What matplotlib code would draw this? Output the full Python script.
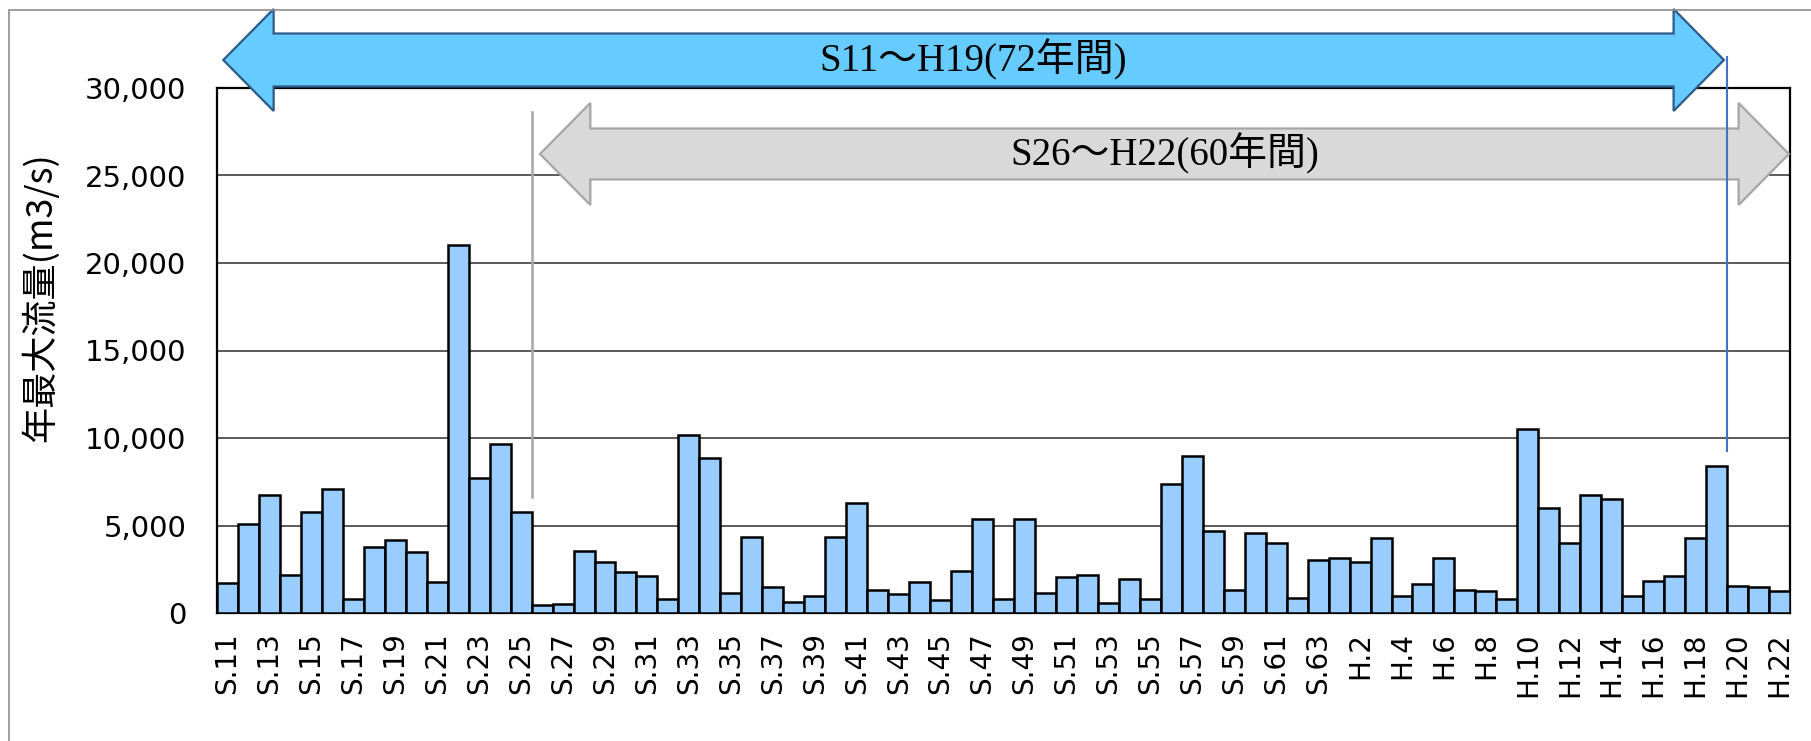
import matplotlib
matplotlib.use('Agg')
import matplotlib.pyplot as plt
from matplotlib.patches import Polygon, Rectangle

# ---- data ----
years = [f"S.{y}" for y in range(11, 64)] + [f"H.{y}" for y in range(1, 23)]
flows = [
    1700, 5100, 6750, 2200, 5800, 7100, 800, 3800, 4180, 3510,   # S11-S20
    1800, 21050, 7700, 9670, 5800, 450, 500, 3560, 2900, 2350,   # S21-S30
    2130, 780, 10180, 8830, 1160, 4320, 1460, 650, 1000, 4320,   # S31-S40
    6290, 1320, 1080, 1750, 730, 2400, 5400, 810, 5350, 1160,    # S41-S50
    2050, 2160, 570, 1970, 780, 7400, 8990, 4700, 1300, 4590,    # S51-S60
    4020, 860, 3050,                                             # S61-S63
    3130, 2940, 4270, 945, 1650, 3130, 1320, 1240, 780, 10530,   # H1-H10
    5990, 4020, 6750, 6530, 945, 1840, 2100, 4270, 8420, 1540,   # H11-H20
    1460, 1240,                                                  # H21-H22
]
yticks = [0, 5000, 10000, 15000, 20000, 25000, 30000]
ylabel = "年最大流量(m3/s)"
span_labels = ["S11～H19(72年間)", "S26～H22(60年間)"]

W, H = 1811, 741
fig = plt.figure(figsize=(W / 100, H / 100), dpi=100)
fig.patch.set_facecolor('white')

# outer frame
fig.add_artist(Rectangle((9 / W, -0.05), 1.2, 1 - 10 / H + 0.05, transform=fig.transFigure,
                         fill=False, edgecolor='#8c8c8c', linewidth=1.2))

ax = fig.add_axes([217 / W, 1 - 613 / H, (1790 - 217) / W, (613 - 88) / H])
x = list(range(len(years)))
ax.bar(x, flows, width=1.0, color='#99CCFF', edgecolor='black', linewidth=1.8, zorder=3)

ax.set_xlim(-0.5, len(years) - 0.5)
ax.set_ylim(0, 30000)
ax.set_yticks(yticks)
ax.set_yticklabels([f"{v:,}" for v in yticks], fontsize=21, family='DejaVu Sans')
ax.set_xticks(x[::2])
ax.set_xticklabels(years[::2], rotation=90, fontsize=20, family='DejaVu Sans')
ax.tick_params(axis='y', length=0, pad=22)
ax.tick_params(axis='x', length=0, pad=14)
ax.yaxis.grid(True, color='#4d4d4d', linewidth=1.3, zorder=0)
ax.set_axisbelow(True)
for s in ax.spines.values():
    s.set_color('black')
    s.set_linewidth(1.6)

fig.text(40 / W, 1 - 297 / H, ylabel, rotation=90, ha='center', va='center',
         fontsize=26, family=['Noto Sans CJK JP', 'DejaVu Sans'])

# ---- span arrows ----
def block_arrow(x0, x1, yc, shaft, head, head_len, fc, ec):
    pts = [
        (x0, yc), (x0 + head_len, yc + head), (x0 + head_len, yc + shaft),
        (x1 - head_len, yc + shaft), (x1 - head_len, yc + head), (x1, yc),
        (x1 - head_len, yc - head), (x1 - head_len, yc - shaft),
        (x0 + head_len, yc - shaft), (x0 + head_len, yc - head),
    ]
    p = Polygon(pts, closed=True, facecolor=fc, edgecolor=ec, linewidth=1.6,
                transform=ax.transData, clip_on=False, zorder=10)
    ax.add_patch(p)

# blue: S11-H19
block_arrow(-0.2, 71.35, 31600, 1514, 2914, 2.4, '#66CCFF', '#2E5A8A')
ax.text((-0.2 + 71.35) / 2, 31600, span_labels[0], ha='center', va='center',
        fontsize=28, family=['Liberation Serif', 'Noto Sans CJK JP'], zorder=12, clip_on=False)

# gray: S26-H22
block_arrow(14.9, 74.45, 26230, 1457, 2914, 2.4, '#D9D9D9', '#A6A6A6')
ax.text((14.9 + 74.45) / 2, 26230, span_labels[1], ha='center', va='center',
        fontsize=28, family=['Liberation Serif', 'Noto Sans CJK JP'], zorder=12, clip_on=False)

# boundary lines
ax.plot([14.5, 14.5], [6630, 28630], color='#A6A6A6', linewidth=1.8, zorder=11, clip_on=False)
ax.plot([71.5, 71.5], [9260, 31770], color='#4472C4', linewidth=1.5, zorder=13, clip_on=False)

fig.savefig('out.png', dpi=100)
